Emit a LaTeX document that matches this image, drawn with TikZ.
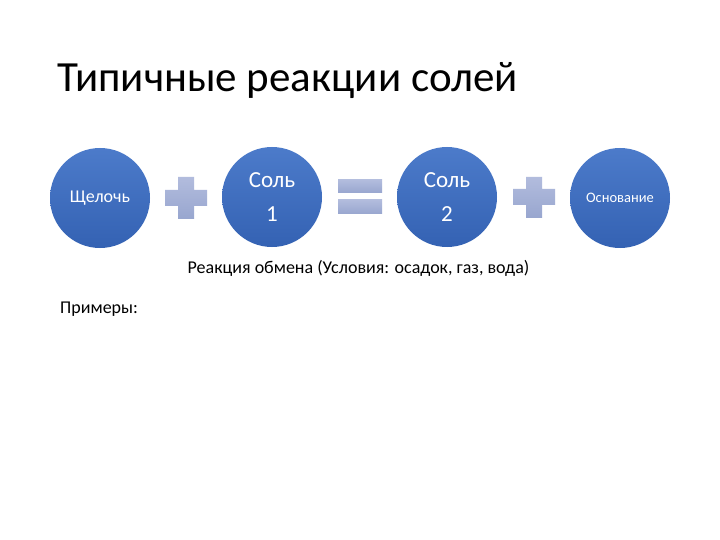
\documentclass[tikz,border=0pt]{standalone}
\usepackage{fontspec}
\setmainfont{Carlito}
\begin{document}
\begin{tikzpicture}[x=1pt,y=-1pt,
  ball/.style={circle,minimum size=100pt,inner sep=0pt,top color=ballTop,bottom color=ballBot,draw=none,text=white,align=center},
  sign/.style={top color=signTop,bottom color=signBot,draw=none}]
\definecolor{ballTop}{HTML}{4C7BCA}
\definecolor{ballBot}{HTML}{3462B3}
\definecolor{signTop}{HTML}{B2BCDD}
\definecolor{signBot}{HTML}{98A6CF}
\useasboundingbox[fill=white] (0,0) rectangle (720,540);
\node[anchor=base west,inner sep=0pt,font=\fontsize{43}{48}\selectfont] (title) at (57,92) {Типичные реакции солей};
\node[ball,font=\fontsize{18}{20}\selectfont] (alk) at (100,198) {Щелочь};
\node[ball,font=\fontsize{23}{34}\selectfont] (s1) at (272,197) {Соль\\1};
\node[ball,font=\fontsize{23}{34}\selectfont] (s2) at (447,197) {Соль\\2};
\node[ball,font=\fontsize{14.5}{16}\selectfont] (base) at (620,198) {Основание};
% plus 1
\path[sign] (178,177) -- (194,177) -- (194,190) -- (207,190) -- (207,206) -- (194,206) -- (194,219) -- (178,219) -- (178,206) -- (165,206) -- (165,190) -- (178,190) -- cycle;
% equals
\path[sign] (338,180) rectangle (382,193);
\path[sign] (338,200) rectangle (382,214);
% plus 2
\path[sign] (526,177) -- (542,177) -- (542,189) -- (555,189) -- (555,205) -- (542,205) -- (542,218) -- (526,218) -- (526,205) -- (513,205) -- (513,189) -- (526,189) -- cycle;
\node[font=\fontsize{18}{20}\selectfont,inner sep=0pt] (react) at (358.5,268) {Реакция обмена (Условия: осадок, газ, вода)};
\node[anchor=base west,inner sep=0pt,font=\fontsize{18}{20}\selectfont] (ex) at (60,313) {Примеры:};
\end{tikzpicture}
\end{document}
